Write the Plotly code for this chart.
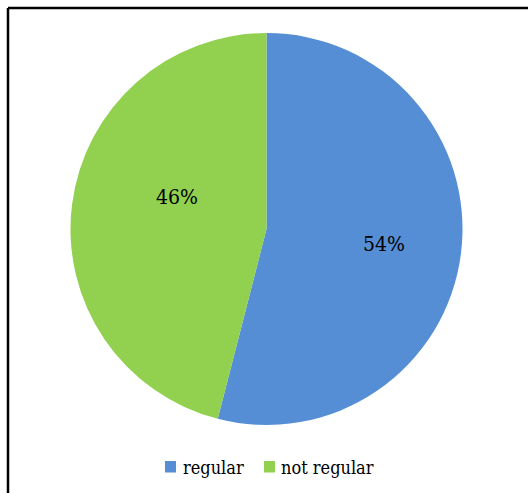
import plotly.graph_objects as go

# Chart data
labels = ["regular", "not regular"]
values = [54, 46]
colors = ["#558ED5", "#92D050"]
pct_labels = ["54%", "46%"]

W, H = 528, 493
FONT = "DejaVu Serif Condensed"


def px(x):
    return x / W


def py(y):
    return 1 - y / H


fig = go.Figure(
    go.Pie(
        labels=labels,
        values=values,
        marker=dict(colors=colors, line=dict(width=0)),
        sort=False,
        direction="clockwise",
        rotation=0,
        textinfo="none",
        hoverinfo="label+percent",
        showlegend=False,
        domain=dict(x=[px(70.5), px(462.5)], y=[py(425), py(33)]),
    )
)

# Percentage labels inside slices
label_pos = [(383.5, 244), (176.5, 197)]
annotations = []
for text, (x, y) in zip(pct_labels, label_pos):
    annotations.append(dict(
        x=px(x), y=py(y), xref="paper", yref="paper",
        text=text, showarrow=False, xanchor="center", yanchor="middle",
        font=dict(family=FONT, size=21, color="#000000"),
    ))

# Legend below the pie: colored squares with labels
shapes = []
legend_items = [(165, 180.5), (264, 278.5)]
for name, color, (sx, tx) in zip(labels, colors, legend_items):
    shapes.append(dict(
        type="rect", xref="paper", yref="paper",
        x0=px(sx), x1=px(sx + 11), y0=py(472.5), y1=py(461),
        fillcolor=color, line=dict(width=0),
    ))
    annotations.append(dict(
        x=px(tx), y=py(467), xref="paper", yref="paper",
        text=name, showarrow=False, xanchor="left", yanchor="middle",
        font=dict(family=FONT, size=18, color="#000000"),
    ))

# Outer frame (top and left edges)
shapes.append(dict(type="line", xref="paper", yref="paper",
                   x0=px(8), x1=1.01, y0=py(8), y1=py(8),
                   line=dict(color="#000000", width=2.5)))
shapes.append(dict(type="line", xref="paper", yref="paper",
                   x0=px(8), x1=px(8), y0=py(8), y1=-0.01,
                   line=dict(color="#000000", width=2.5)))

fig.update_layout(
    width=W, height=H,
    margin=dict(l=0, r=0, t=0, b=0),
    paper_bgcolor="#FFFFFF",
    plot_bgcolor="#FFFFFF",
    annotations=annotations,
    shapes=shapes,
)

fig.write_html("out.html")
